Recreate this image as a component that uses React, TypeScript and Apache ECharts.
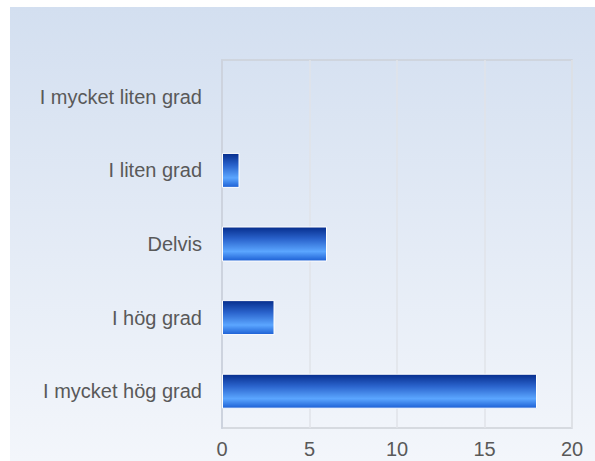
import React, { useEffect, useRef } from "react";
import * as echarts from "echarts";

const categories = ["I mycket hög grad", "I hög grad", "Delvis", "I liten grad", "I mycket liten grad"];
const values = [18, 3, 6, 1, 0];
const xTicks = [0, 5, 10, 15, 20];

export default function App() {
  const ref = useRef<HTMLDivElement>(null);
  useEffect(() => {
    const chart = echarts.init(ref.current!, null, { renderer: "svg" });
    chart.setOption({
      animation: false,
      backgroundColor: new echarts.graphic.LinearGradient(0, 0, 0, 1, [
        { offset: 0, color: "#d3dff0" },
        { offset: 1, color: "#f3f6fb" },
      ]),
      grid: {
        left: 212,
        right: 23,
        top: 53,
        bottom: 33,
        show: true,
        borderColor: "#cdd1d8",
        borderWidth: 1.5,
        backgroundColor: "transparent",
      },
      xAxis: {
        type: "value",
        min: xTicks[0],
        max: xTicks[xTicks.length - 1],
        interval: 5,
        axisLine: { show: false },
        axisTick: { show: false },
        splitLine: { show: true, lineStyle: { color: "#e0e3e9", width: 1.5 } },
        axisLabel: {
          color: "#595959",
          fontSize: 20,
          fontFamily: "Liberation Sans, Arial, sans-serif",
          margin: 11,
        },
      },
      yAxis: {
        type: "category",
        data: categories,
        axisLine: { show: true, lineStyle: { color: "#cdd3de", width: 2 } },
        axisTick: { show: false },
        splitLine: { show: false },
        axisLabel: {
          color: "#595959",
          fontSize: 20,
          fontFamily: "Liberation Sans, Arial, sans-serif",
          margin: 20,
        },
      },
      series: [
        {
          type: "bar",
          data: values.map((v) => (v === 0 ? { value: v, itemStyle: { borderWidth: 0 } } : v)),
          barWidth: "47.5%",
          itemStyle: {
            borderColor: "#ffffff",
            borderWidth: 1,
            color: new echarts.graphic.LinearGradient(0, 0, 0, 1, [
              { offset: 0, color: "#062d8c" },
              { offset: 0.35, color: "#2a63cc" },
              { offset: 0.72, color: "#5ba6ff" },
              { offset: 1, color: "#1c5fd4" },
            ]),
          },
        },
      ],
    });
    return () => chart.dispose();
  }, []);
  return (
    <div
      ref={ref}
      style={{ position: "fixed", left: 10, top: 7, width: 585, height: 454 }}
    />
  );
}
